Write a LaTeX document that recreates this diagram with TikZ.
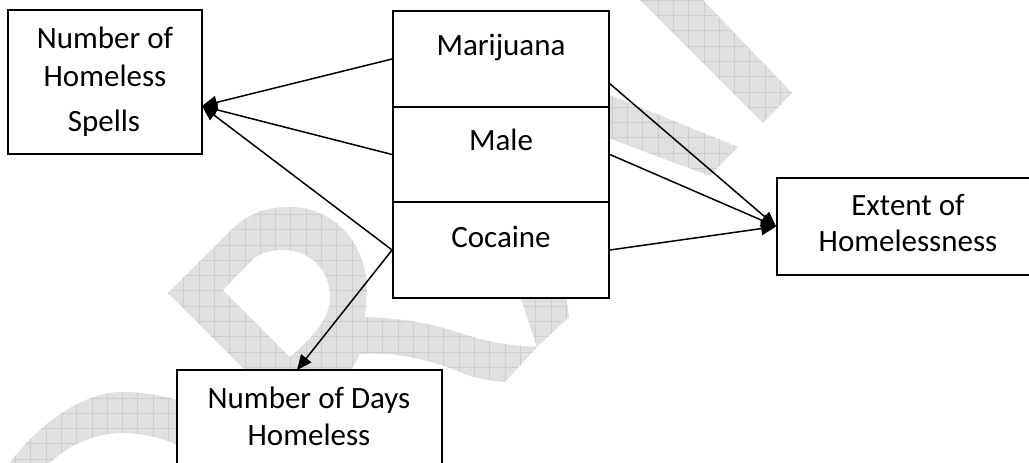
\documentclass[tikz,border=0pt]{standalone}
\usepackage{fontspec}
\setmainfont{Carlito}
\usetikzlibrary{arrows.meta}
\definecolor{wmfill}{HTML}{E0E0E0}
\definecolor{wmline}{HTML}{CDCDCD}
\begin{document}
\begin{tikzpicture}[x=1pt,y=-1pt,
  box/.style={draw, line width=1.8pt, fill=white, rectangle, inner sep=0pt},
  lbl/.style={font=\fontsize{31}{37}\selectfont, anchor=base, inner sep=0pt},
  conn/.style={line width=1.5pt, -{Triangle[length=15pt,width=13pt]}}
]
\useasboundingbox (0,0) rectangle (1029,463);
\clip (0,0) rectangle (1029,463);
% watermark
\begin{scope}[even odd rule]
\clip
  (168,293) -- (231,230) .. controls (250,212) and (268,207) .. (290,207)
   .. controls (335,207) and (367,245) .. (367,290) -- (365,317)
   .. controls (400,318) and (430,323) .. (460,333)
   .. controls (490,343) and (515,346) .. (537,347) -- (505,382)
   .. controls (480,380) and (470,376) .. (460,372)
   .. controls (430,360) and (400,352) .. (360,354) -- (340,390) -- (265,390) -- cycle
  (223,290) -- (253,259) .. controls (263,252) and (272,250) .. (283,250)
   .. controls (310,250) and (330,270) .. (330,297)
   .. controls (330,320) and (310,340) .. (290,357) -- cycle
  (10,463) .. controls (30,435) and (75,392) .. (123,392)
   .. controls (145,392) and (165,396) .. (180,401) -- (180,446)
   .. controls (160,437) and (140,433) .. (123,433)
   .. controls (95,433) and (68,445) .. (50,463) -- cycle
  (518,290) -- (565,290) -- (569,317) -- (537,347) -- cycle
  (600,91) -- (738,147) -- (710,176) -- (600,135) -- cycle
  (640,0) -- (703,0) -- (792,93) -- (763,123) -- cycle;
\fill[wmfill] (0,0) rectangle (1029,463);
\draw[wmline, line width=0.5pt, step=15.3pt] (0,0) grid (1029,463);
\end{scope}
% boxes
\node[box, minimum width=193.4pt, minimum height=144pt] (sp) at (105,82) {};
\node[box, minimum width=216pt, minimum height=96pt] (mar) at (501,59) {};
\node[box, minimum width=216pt, minimum height=95pt] (male) at (501,154.5) {};
\node[box, minimum width=216pt, minimum height=96pt] (coc) at (501,250) {};
\node[box, minimum width=263pt, minimum height=97pt] (ext) at (908.5,226.5) {};
\node[box, minimum width=265pt, minimum height=120pt] (days) at (309.5,430) {};
% labels
\node[lbl] (spA) at (105,48.3) {Number of};
\node[lbl] (spB) at (105,86.7) {Homeless};
\node[lbl] (spC) at (104,131.7) {Spells};
\node[lbl] (marT) at (501,55) {Marijuana};
\node[lbl] (maleT) at (501,150) {Male};
\node[lbl] (cocT) at (501,247) {Cocaine};
\node[lbl] (extA) at (908,215) {Extent of};
\node[lbl] (extB) at (908,251.7) {Homelessness};
\node[lbl] (daysA) at (309,408) {Number of Days};
\node[lbl] (daysB) at (309,445) {Homeless};
% connectors
\coordinate (spT) at (202,106);
\coordinate (dT) at (297,370);
\coordinate (mR) at (609,83);
\draw[conn] (mar.west) -- (spT);
\draw[conn] (male.west) -- (spT);
\draw[conn] (coc.west) -- (spT);
\draw[conn] (coc.west) -- (dT);
\draw[conn] (mR) -- (ext.west);
\draw[conn] (male.east) -- (ext.west);
\draw[conn] (coc.east) -- (ext.west);
\end{tikzpicture}
\end{document}
